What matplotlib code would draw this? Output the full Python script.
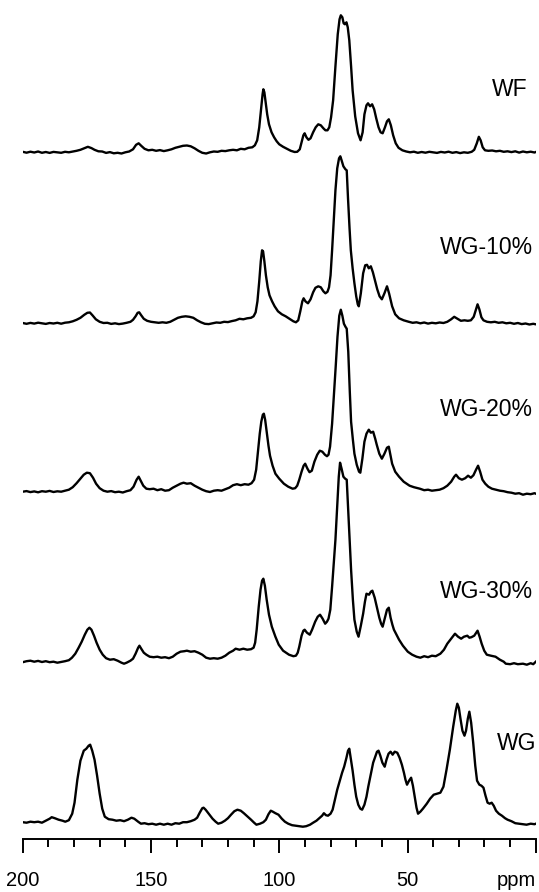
import numpy as np
import matplotlib
matplotlib.use('Agg')
import matplotlib.pyplot as plt
from matplotlib import font_manager

# (ppm, intensity), intensity in pixels above each baseline
wf = [(200.0, 0.5), (198.5, -0.4), (197.0, 0.6), (195.5, -0.2), (194.0, 0.8), (192.5, -0.5), (191.0, 0.3),
      (189.5, -0.6), (188.0, 0.4), (186.5, 0.0), (185.0, -0.5), (183.5, 0.5), (182.0, 0.0), (180.5, 0.7),
      (179.0, 1.5), (177.5, 2.5), (176.0, 4.0), (174.6, 5.5), (173.2, 4.2), (172.0, 2.5), (170.5, 1.0),
      (169.0, 0.8), (167.5, -0.6), (166.0, 0.2), (164.5, -1.0), (163.0, -0.5), (161.5, -1.2), (160.0, 0.0),
      (158.5, 0.8), (157.0, 3.0), (155.8, 7.5), (154.8, 9.0), (153.8, 6.5), (152.5, 3.5), (151.0, 2.0),
      (149.5, 2.5), (148.0, 1.5), (146.5, 2.2), (145.0, 1.2), (143.5, 2.0), (142.0, 3.0), (140.5, 4.5),
      (139.0, 5.5), (137.5, 6.5), (136.0, 6.8), (134.5, 6.0), (133.0, 4.0), (131.5, 1.5), (130.0, -0.5),
      (128.5, -1.2), (127.0, 0.0), (125.5, 0.8), (124.0, 0.5), (122.5, 1.5), (121.0, 1.2), (119.5, 2.0),
      (118.0, 2.5), (116.5, 2.0), (115.0, 3.5), (113.5, 3.0), (112.0, 4.5), (110.5, 5.0), (109.5, 7.0),
      (108.6, 12.0), (107.8, 25.0), (107.0, 45.0), (106.5, 58.0), (106.2, 63.0), (105.8, 60.0), (105.3, 50.0),
      (104.7, 38.0), (104.0, 28.0), (103.0, 20.0), (102.0, 15.0), (101.0, 11.0), (100.0, 8.0), (98.5, 5.5),
      (97.0, 3.5), (95.5, 1.5), (94.0, 0.3), (93.0, 0.5), (92.0, 3.0), (91.3, 10.0), (90.6, 17.0), (90.1, 19.0),
      (89.4, 15.0), (88.6, 12.5), (87.8, 14.0), (86.8, 20.0), (85.8, 25.0), (84.8, 28.0), (83.8, 27.0),
      (82.8, 24.0), (82.0, 22.0), (81.2, 22.0), (80.5, 25.0), (79.8, 35.0), (79.0, 52.0), (78.1, 86.0),
      (77.2, 118.0), (76.5, 133.0), (76.0, 137.0), (75.4, 135.0), (74.9, 129.0), (74.4, 128.0), (73.8, 130.0),
      (73.3, 125.0), (72.7, 112.0), (72.0, 86.0), (71.4, 62.0), (70.4, 36.0), (69.3, 19.0), (68.3, 12.0),
      (67.5, 20.0), (66.8, 38.0), (66.0, 47.0), (65.4, 49.0), (64.6, 46.0), (63.8, 48.0), (63.0, 43.0),
      (62.2, 34.0), (61.3, 25.0), (60.5, 20.0), (59.7, 19.0), (58.8, 25.0), (58.0, 31.0), (57.3, 33.0),
      (56.5, 27.0), (55.6, 17.0), (54.6, 9.0), (53.5, 4.5), (52.0, 2.0), (50.5, 0.8), (49.0, 0.0), (47.5, 0.6),
      (46.0, -0.5), (44.5, 0.3), (43.0, -0.4), (41.5, 0.5), (40.0, 0.0), (38.5, -0.6), (37.0, 0.4),
      (35.5, -0.2), (34.0, 0.6), (32.5, -0.5), (31.0, 0.2), (29.5, -0.8), (28.0, 0.0), (26.5, -0.5),
      (25.0, 0.5), (24.0, 2.5), (23.0, 9.0), (22.2, 15.5), (21.5, 12.0), (20.7, 5.0), (19.8, 2.0), (18.5, 1.5),
      (17.0, 1.8), (15.5, 1.0), (14.0, 1.5), (12.5, 0.5), (11.0, 1.0), (9.5, 0.2), (8.0, 1.0), (6.5, -0.3),
      (5.0, 0.8), (3.5, 0.0), (2.0, 0.6), (0.5, -0.2), (0.0, 0.3)]

wg10 = [(200.0, 0.3), (198.5, -0.5), (197.0, 0.4), (195.5, -0.3), (194.0, 0.6), (192.5, 0.0), (191.0, -0.6),
        (189.5, 0.3), (188.0, -0.2), (186.5, 0.5), (185.0, -0.4), (183.5, 0.6), (182.0, 1.0), (180.5, 2.0),
        (179.0, 3.5), (177.5, 5.5), (176.0, 8.5), (174.8, 10.5), (173.8, 10.8), (172.8, 8.0), (171.5, 4.0),
        (170.0, 1.5), (168.5, 0.3), (167.0, 0.5), (165.5, -0.6), (164.0, 0.0), (162.5, -0.8), (161.0, -0.3),
        (159.5, 0.5), (158.0, 1.5), (157.0, 3.5), (156.0, 7.0), (155.2, 10.5), (154.6, 11.0), (153.8, 8.0),
        (152.8, 4.5), (151.5, 2.5), (150.0, 1.5), (148.5, 1.0), (147.0, 0.5), (145.5, 1.0), (144.0, 0.5),
        (142.5, 1.5), (141.0, 3.5), (139.5, 5.5), (138.0, 6.5), (136.5, 7.0), (135.0, 6.5), (133.5, 5.5),
        (132.0, 3.0), (130.5, 1.0), (129.0, -0.5), (127.5, -0.8), (126.0, 0.0), (124.5, 0.8), (123.0, 0.5),
        (121.5, 1.5), (120.0, 1.2), (118.5, 2.2), (117.0, 3.0), (115.5, 4.5), (114.0, 4.0), (112.5, 5.0),
        (111.0, 5.5), (110.0, 7.0), (109.2, 11.0), (108.5, 22.0), (107.8, 42.0), (107.2, 62.0), (106.7, 73.0),
        (106.3, 72.0), (105.8, 62.0), (105.2, 48.0), (104.5, 36.0), (103.8, 28.0), (102.8, 22.0), (101.8, 17.0),
        (100.5, 12.0), (99.0, 9.0), (97.5, 7.0), (96.0, 4.5), (94.5, 2.0), (93.5, 1.0), (92.6, 3.0), (91.8, 12.0),
        (91.0, 22.0), (90.5, 25.0), (89.8, 22.0), (88.8, 20.0), (87.8, 24.0), (86.8, 31.0), (85.9, 35.5),
        (84.8, 37.0), (83.8, 36.0), (82.8, 32.0), (82.0, 30.0), (81.2, 31.5), (80.6, 36.0), (80.0, 48.0),
        (79.4, 73.0), (78.7, 105.0), (78.1, 133.0), (77.4, 155.0), (76.7, 165.0), (76.2, 167.0), (75.7, 163.0),
        (75.0, 157.0), (74.2, 154.0), (73.7, 153.0), (73.2, 125.0), (72.6, 95.0), (72.1, 73.0), (71.4, 55.0),
        (70.7, 40.0), (70.0, 27.0), (69.4, 19.0), (69.0, 17.0), (68.2, 30.0), (67.3, 50.0), (66.5, 58.0),
        (65.8, 58.5), (65.1, 55.0), (64.3, 57.0), (63.5, 51.0), (62.7, 43.0), (61.8, 34.0), (60.9, 27.0),
        (60.0, 24.0), (59.0, 30.0), (58.0, 37.0), (57.2, 30.0), (56.0, 17.0), (54.8, 9.0), (53.3, 5.0),
        (51.5, 3.0), (49.5, 1.5), (48.0, 0.5), (46.5, 1.0), (45.0, 0.0), (43.5, 0.8), (42.0, -0.3), (40.5, 0.5),
        (39.0, 0.0), (37.5, 0.8), (36.0, 0.3), (34.5, 1.5), (33.0, 4.0), (31.8, 6.5), (30.5, 4.5), (29.2, 2.5),
        (27.8, 3.0), (26.5, 2.5), (25.3, 3.0), (24.2, 6.5), (23.3, 14.0), (22.7, 19.0), (22.0, 14.0),
        (21.2, 6.0), (20.4, 3.0), (19.0, 1.5), (17.5, 1.0), (16.0, 1.5), (14.5, 0.5), (13.0, 1.0), (11.5, 0.0),
        (10.0, 0.5), (8.5, -0.5), (7.0, 0.3), (5.5, -0.8), (4.0, -0.2), (2.5, -1.2), (1.0, -0.5), (0.0, -1.0)]

wg20 = [(200.0, 0.0), (198.5, 0.6), (197.0, -0.4), (195.5, 0.3), (194.0, -0.6), (192.5, 0.5), (191.0, 0.0),
        (189.5, 0.8), (188.0, -0.3), (186.5, 0.4), (185.0, 0.0), (183.5, 1.0), (182.0, 2.0), (180.5, 4.5),
        (179.0, 8.5), (177.5, 13.0), (176.2, 17.0), (175.0, 19.0), (173.8, 18.5), (172.6, 14.0), (171.4, 8.0),
        (170.0, 3.5), (168.5, 1.0), (167.0, 0.0), (165.5, 0.6), (164.0, -0.5), (162.5, 0.0), (161.0, -0.8),
        (159.5, 0.5), (158.0, 1.5), (156.8, 5.0), (155.6, 12.0), (154.8, 15.0), (154.0, 11.0), (153.0, 6.0),
        (151.8, 3.0), (150.5, 2.5), (149.0, 3.0), (147.5, 1.5), (146.0, 2.5), (144.5, 1.0), (143.0, 1.5),
        (141.5, 4.0), (140.0, 6.0), (138.5, 8.0), (137.3, 9.0), (136.0, 8.0), (134.5, 8.5), (133.0, 6.0),
        (131.5, 4.0), (130.0, 2.0), (128.5, 0.5), (127.0, -0.3), (125.5, 1.0), (124.0, 1.5), (122.5, 1.0),
        (121.0, 2.5), (119.5, 4.0), (118.0, 6.5), (116.5, 7.5), (115.0, 6.5), (113.5, 7.5), (112.0, 7.0),
        (110.8, 8.5), (109.8, 12.0), (109.0, 22.0), (108.3, 40.0), (107.6, 58.0), (107.0, 70.0), (106.4, 77.0),
        (106.0, 78.0), (105.5, 72.0), (104.9, 60.0), (104.2, 46.0), (103.6, 36.0), (102.6, 26.0), (101.5, 18.0),
        (100.0, 13.0), (98.2, 8.0), (96.5, 5.0), (94.8, 3.0), (93.8, 3.5), (93.0, 6.0), (92.2, 12.0),
        (91.3, 20.0), (90.5, 26.0), (89.9, 28.0), (89.0, 23.0), (88.2, 19.5), (87.3, 21.0), (86.3, 30.0),
        (85.2, 37.0), (84.2, 41.0), (83.2, 40.0), (82.2, 37.0), (81.4, 35.5), (80.8, 37.0), (80.2, 45.0),
        (79.4, 68.0), (78.6, 100.0), (78.0, 125.0), (77.3, 155.0), (76.6, 176.0), (76.0, 182.0), (75.4, 176.0),
        (74.8, 168.0), (74.2, 165.0), (73.7, 163.0), (73.1, 140.0), (72.5, 100.0), (72.0, 70.0), (71.3, 52.0),
        (70.7, 38.0), (69.8, 27.0), (68.9, 20.0), (68.4, 19.0), (67.6, 33.0), (66.8, 50.0), (66.0, 58.0),
        (65.1, 62.0), (64.3, 59.0), (63.4, 60.0), (62.6, 53.0), (62.0, 47.0), (61.0, 38.0), (60.0, 33.0),
        (59.0, 38.0), (58.0, 44.0), (57.3, 45.0), (56.6, 36.0), (56.0, 28.0), (54.8, 20.0), (53.3, 15.0),
        (51.5, 10.0), (49.2, 6.0), (47.5, 4.5), (45.2, 3.0), (43.5, 1.5), (42.0, 2.0), (40.5, 1.0), (39.0, 1.5),
        (37.5, 2.0), (36.0, 3.5), (34.5, 6.0), (33.0, 10.0), (31.8, 15.0), (31.1, 17.0), (30.0, 13.5),
        (28.8, 12.0), (27.5, 13.5), (26.4, 16.0), (25.3, 14.0), (24.3, 16.5), (23.3, 22.0), (22.5, 26.0),
        (21.7, 20.0), (20.8, 12.0), (19.7, 8.0), (18.5, 5.0), (17.1, 3.0), (15.5, 2.0), (14.0, 1.0), (12.5, 0.5),
        (11.0, -0.5), (9.5, -1.0), (8.0, -2.0), (6.5, -1.5), (5.0, -3.0), (3.5, -2.0), (2.0, -2.5), (0.5, -1.5),
        (0.0, -2.0)]

wg30 = [(200.0, -0.5), (198.5, 0.5), (197.0, 1.0), (195.5, 0.0), (194.0, 0.8), (192.5, -0.3), (191.0, 0.5),
        (189.5, -0.5), (188.0, 0.0), (186.5, -1.0), (185.0, -0.3), (183.5, 0.5), (182.0, 1.5), (180.8, 4.0),
        (179.5, 8.0), (178.2, 14.0), (177.0, 20.0), (175.8, 27.0), (174.8, 32.0), (174.0, 34.0), (173.2, 32.0),
        (172.2, 26.0), (171.2, 19.0), (170.0, 12.0), (168.8, 7.0), (167.5, 3.5), (166.0, 2.0), (164.5, 2.5),
        (163.0, 1.0), (161.5, -1.0), (160.5, -2.0), (159.5, -1.0), (158.0, 1.0), (157.0, 3.0), (156.0, 8.0),
        (155.0, 14.0), (154.5, 16.0), (153.8, 13.0), (152.8, 9.0), (151.8, 7.0), (150.5, 5.0), (149.0, 4.5),
        (147.5, 5.0), (146.0, 4.0), (144.5, 4.5), (143.0, 3.5), (141.5, 5.0), (140.0, 8.0), (138.5, 10.0),
        (137.0, 10.5), (136.0, 11.0), (134.5, 10.0), (133.0, 10.5), (131.5, 9.0), (130.0, 7.0), (128.5, 4.0),
        (127.0, 3.0), (125.5, 3.5), (124.0, 3.0), (122.5, 4.0), (121.0, 6.0), (119.5, 9.0), (118.0, 11.0),
        (117.0, 13.0), (115.5, 12.0), (114.0, 13.0), (112.5, 12.0), (111.0, 12.5), (110.0, 14.0), (109.4, 19.0),
        (108.8, 32.0), (108.0, 55.0), (107.3, 72.0), (106.7, 81.0), (106.2, 83.0), (105.6, 76.0), (104.9, 62.0),
        (104.0, 47.0), (102.9, 35.0), (101.5, 25.0), (100.2, 17.0), (98.5, 11.0), (96.2, 7.0), (94.5, 5.5),
        (93.5, 6.0), (92.8, 9.0), (92.2, 15.0), (91.3, 26.0), (90.6, 31.0), (90.1, 32.0), (89.2, 29.0),
        (88.1, 27.0), (87.2, 32.0), (86.0, 40.0), (85.0, 45.0), (84.1, 47.0), (83.1, 43.0), (82.1, 38.0),
        (81.4, 40.0), (80.8, 43.0), (80.1, 52.0), (79.4, 75.0), (78.7, 100.0), (78.1, 122.0), (77.4, 155.0),
        (76.8, 185.0), (76.3, 199.0), (75.7, 193.0), (75.0, 185.0), (74.3, 183.0), (73.7, 182.0), (73.1, 150.0),
        (72.5, 120.0), (72.0, 92.0), (71.3, 62.0), (70.7, 42.0), (69.8, 30.0), (69.1, 25.0), (68.2, 36.0),
        (67.3, 48.0), (66.6, 60.0), (66.0, 68.0), (65.0, 67.0), (64.3, 70.0), (63.7, 71.0), (62.8, 64.0),
        (62.0, 55.0), (61.0, 44.0), (60.3, 38.0), (59.7, 35.0), (58.8, 44.0), (58.0, 52.0), (57.3, 54.0),
        (56.6, 44.0), (55.9, 37.0), (55.3, 32.0), (54.3, 27.0), (53.3, 22.0), (51.8, 16.0), (49.9, 10.0),
        (48.2, 7.0), (46.5, 5.0), (45.0, 4.0), (43.5, 5.5), (42.0, 4.5), (40.5, 6.0), (39.0, 5.5), (37.2, 8.0),
        (35.8, 12.0), (34.5, 18.0), (33.0, 23.0), (31.5, 28.0), (30.3, 25.0), (29.1, 23.0), (28.0, 25.0),
        (26.7, 26.0), (25.9, 24.0), (25.1, 24.5), (24.0, 26.0), (22.7, 31.0), (21.9, 25.0), (21.1, 18.0),
        (20.1, 11.0), (19.1, 7.0), (17.5, 6.0), (15.7, 5.0), (14.0, 2.0), (12.5, 0.0), (11.7, -2.0),
        (10.0, -2.5), (8.5, -1.5), (7.0, -2.5), (5.0, -2.0), (3.5, -3.0), (2.0, -1.5), (1.0, -2.5), (0.0, 0.0)]

wg = [(200.0, 0.5), (198.5, 0.0), (197.0, 1.0), (195.5, 0.5), (194.0, 1.0), (192.5, 0.0), (191.0, 2.0),
      (189.5, 4.0), (188.7, 5.5), (187.5, 4.5), (186.0, 3.0), (184.5, 2.0), (183.4, 1.0), (182.0, 2.5),
      (180.7, 9.0), (179.8, 20.0), (178.7, 43.0), (177.5, 62.0), (176.2, 72.0), (175.2, 74.0), (174.3, 77.0),
      (173.7, 78.0), (172.9, 72.0), (172.0, 63.0), (171.0, 47.0), (170.0, 29.0), (169.0, 14.0), (168.0, 6.0),
      (166.5, 3.5), (165.0, 3.0), (163.5, 2.0), (162.0, 2.5), (160.5, 1.5), (159.0, 3.0), (157.6, 5.0),
      (156.5, 4.0), (155.0, 1.0), (153.9, -1.0), (152.5, -0.5), (151.0, -1.5), (149.5, -1.0), (148.0, -2.0),
      (146.5, -1.0), (145.0, -2.0), (143.5, -1.0), (142.0, -2.0), (140.5, -0.5), (139.0, -1.0), (137.5, 0.5),
      (136.0, 0.5), (134.5, 1.5), (133.0, 3.0), (132.0, 5.0), (131.0, 10.0), (130.0, 14.5), (129.5, 15.0),
      (128.7, 13.0), (127.8, 10.0), (127.0, 7.5), (126.0, 4.0), (124.8, 1.0), (123.8, -1.0), (122.5, 0.0),
      (121.2, 2.0), (120.0, 4.5), (118.8, 8.0), (117.5, 11.5), (116.3, 13.0), (115.0, 12.0), (113.8, 9.5),
      (112.5, 6.5), (111.0, 3.0), (109.8, 0.0), (108.9, -2.0), (107.5, -1.0), (106.2, 0.5), (105.2, 3.0),
      (104.2, 8.5), (103.3, 12.0), (102.5, 11.0), (101.5, 9.5), (100.3, 8.0), (99.0, 4.0), (97.8, 1.0),
      (96.5, -1.0), (95.0, -2.5), (93.5, -3.0), (92.0, -3.5), (90.8, -4.0), (89.5, -3.5), (88.0, -2.0),
      (86.8, 0.0), (85.5, 2.0), (84.2, 5.0), (83.3, 7.0), (82.6, 9.5), (81.8, 7.5), (81.0, 7.0), (80.0, 9.0),
      (79.2, 13.0), (78.2, 24.0), (77.4, 33.0), (76.4, 42.0), (75.5, 50.0), (74.7, 56.0), (73.8, 65.0),
      (73.2, 72.0), (72.7, 74.0), (72.1, 64.0), (71.4, 52.0), (70.7, 38.0), (70.0, 26.0), (69.2, 18.0),
      (68.4, 14.0), (67.7, 13.0), (66.8, 18.0), (66.0, 26.0), (65.3, 36.0), (64.2, 50.0), (63.4, 60.0),
      (62.7, 65.0), (61.9, 71.0), (61.3, 72.0), (60.6, 67.0), (59.8, 60.0), (58.9, 56.0), (58.2, 63.0),
      (57.4, 69.0), (56.6, 71.0), (55.8, 68.0), (55.0, 71.0), (54.0, 70.0), (53.1, 65.0), (52.2, 58.0),
      (51.4, 50.0), (50.8, 43.0), (50.2, 38.0), (49.4, 42.0), (48.6, 45.0), (47.9, 37.0), (47.2, 26.0),
      (46.5, 15.0), (45.9, 9.0), (45.0, 11.0), (44.0, 14.0), (42.5, 19.0), (41.2, 24.0), (39.8, 28.0),
      (38.5, 29.0), (37.2, 30.0), (36.0, 36.0), (34.8, 53.0), (33.5, 73.0), (32.2, 96.0), (31.2, 112.0),
      (30.6, 119.0), (30.0, 115.0), (29.3, 103.0), (28.6, 92.0), (27.8, 87.0), (27.2, 92.0), (26.5, 104.0),
      (25.9, 111.0), (25.2, 100.0), (24.4, 80.0), (23.6, 57.0), (22.9, 42.0), (22.0, 38.0), (21.2, 37.0),
      (20.4, 35.0), (19.6, 27.0), (18.8, 20.0), (18.0, 19.0), (17.2, 20.0), (16.4, 17.0), (15.5, 12.0),
      (14.4, 9.0), (13.2, 7.0), (12.0, 4.5), (11.0, 3.0), (9.5, 1.5), (8.0, -0.5), (6.5, -1.0), (5.0, -1.5),
      (3.6, -2.0), (2.0, -1.0), (0.5, -1.5), (0.0, -1.0)]

names = ['WF', 'WG-10%', 'WG-20%', 'WG-30%', 'WG']
spectra = [wf, wg10, wg20, wg30, wg]
major_ticks = [200, 150, 100, 50, 0]
tick_labels = ['200', '150', '100', '50', 'ppm']

# stacking offsets and label anchors (axis units: pixels above the x axis)
offsets = [686.4, 515.4, 347.0, 177.0, 16.0]
label_pos = [(3.4, 749.7), (1.1, 591.2), (1.1, 428.7), (1.1, 247.7), (-0.35, 94.7)]

installed = set(f.name for f in font_manager.fontManager.ttflist)
if 'Liberation Sans Narrow' in installed:
    fam, fs_lab, fs_tick = 'Liberation Sans Narrow', 19.4, 17
else:
    fam, fs_lab, fs_tick = 'Liberation Sans', 16.5, 14.5
plt.rcParams['font.family'] = fam

fig = plt.figure(figsize=(5.39, 8.92), dpi=100)
ax = fig.add_axes([22.7/539, 53.3/892, 513.1/539, 838.7/892])

for sp, off in zip(spectra, offsets):
    a = np.array(sp)
    ax.plot(a[:, 0], a[:, 1] + off, color='black', lw=1.7, solid_joinstyle='round')

for name, (x, y) in zip(names, label_pos):
    ax.text(x, y, name, ha='right', va='center', fontsize=fs_lab, clip_on=False)

ax.set_xlim(200, 0)
ax.set_ylim(0, 838.7)
for s in ['left', 'right', 'top']:
    ax.spines[s].set_visible(False)
ax.spines['bottom'].set_linewidth(1.4)
ax.set_yticks([])
ax.set_xticks(major_ticks)
ax.set_xticklabels(tick_labels)
ax.set_xticks(np.arange(0, 201, 10), minor=True)
ax.tick_params(axis='x', which='major', direction='out', length=10, width=1.4, pad=13, labelsize=fs_tick)
ax.tick_params(axis='x', which='minor', direction='out', length=5.8, width=1.4)
ax.get_xticklabels()[-1].set_ha('right')
ax.patch.set_alpha(0)

fig.savefig('out.png', dpi=100)
